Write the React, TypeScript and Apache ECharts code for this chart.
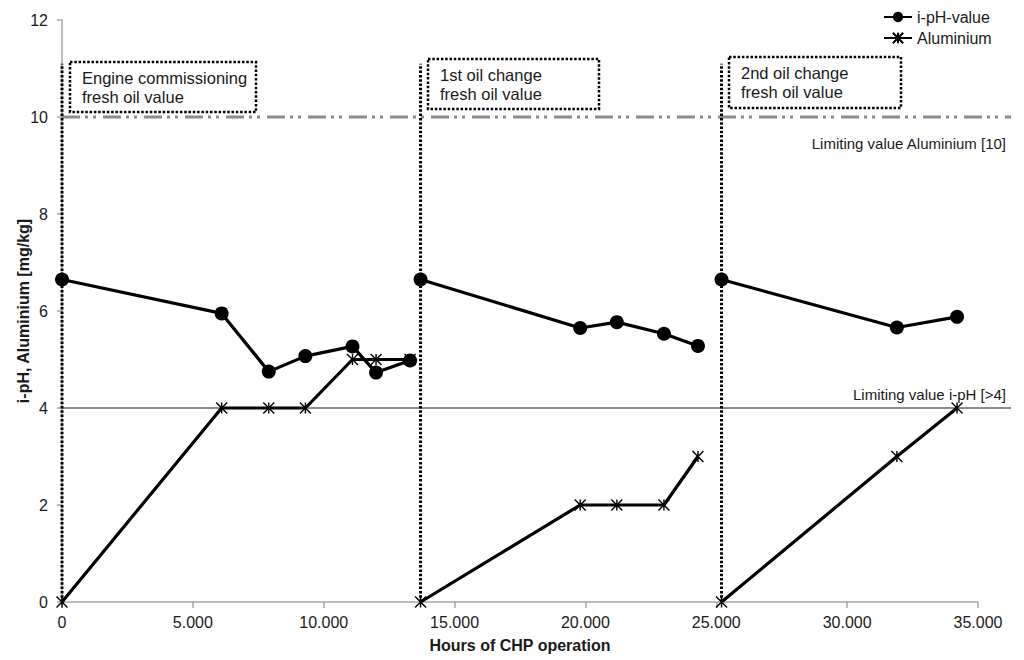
import React, { useEffect, useRef } from "react";
import * as echarts from "echarts";

// ---- data ----
const oilChangeHours = [0, 13700, 25200];
const annotationTop = 11.1;

const seg1Hours = [0, 6100, 7900, 9300, 11100, 12000, 13300];
const seg1PH = [6.65, 5.95, 4.75, 5.07, 5.27, 4.73, 4.98];
const seg1Al = [0, 4, 4, 4, 5, 5, 5];

const seg2Hours = [13700, 19800, 21200, 23000, 24300];
const seg2PH = [6.65, 5.65, 5.77, 5.53, 5.28];
const seg2Al = [0, 2, 2, 2, 3];

const seg3Hours = [25200, 31900, 34200];
const seg3PH = [6.65, 5.66, 5.88];
const seg3Al = [0, 3, 4];

const limitAluminium = 10;
const limitPH = 4;

const xTicks = { min: 0, max: 35000, interval: 5000 };
const yTicks = { min: 0, max: 12, interval: 2 };

const annotationLabels = [
  "Engine commissioning\nfresh oil value",
  "1st oil change\nfresh oil value",
  "2nd oil change\nfresh oil value",
];
const limitLabels = ["Limiting value Aluminium [10]", "Limiting value i-pH [>4]"];

const FONT = '"Liberation Sans", Arial, sans-serif';
const STAR = "path://M0,0L10,10M10,0L0,10M5,0L5,10";

const zip = (xs: number[], ys: number[]) => xs.map((x, i) => [x, ys[i]]);

export default function App() {
  const ref = useRef<HTMLDivElement>(null);
  useEffect(() => {
    if (!ref.current) return;
    const chart = echarts.init(ref.current, undefined, { renderer: "svg" });

    const segments = [
      [seg1Hours, seg1PH, seg1Al],
      [seg2Hours, seg2PH, seg2Al],
      [seg3Hours, seg3PH, seg3Al],
    ];

    const series: any[] = [];
    series.push({
      type: "line",
      xAxisIndex: 1,
      yAxisIndex: 1,
      data: [[0, limitAluminium], [1, limitAluminium]],
      symbol: "none",
      silent: true,
      z: 1,
      lineStyle: { color: "#8c8c8c", width: 2.8, type: [18, 5, 3, 5, 3, 7] },
    });
    series.push({
      type: "line",
      xAxisIndex: 1,
      yAxisIndex: 1,
      data: [[0, limitPH], [1, limitPH]],
      symbol: "none",
      silent: true,
      z: 1,
      lineStyle: { color: "#8c8c8c", width: 2.2 },
    });
    oilChangeHours.forEach((h) => {
      series.push({
        type: "line",
        data: [[h, 0], [h, annotationTop]],
        symbol: "none",
        silent: true,
        z: 2,
        lineStyle: { color: "#000", width: 3, type: [2.5, 1.8] },
      });
    });
    segments.forEach(([hours, ph, al]) => {
      series.push({
        type: "line",
        name: "Aluminium",
        data: zip(hours, al),
        symbol: STAR,
        symbolSize: 11,
        z: 3,
        lineStyle: { color: "#000", width: 3.2 },
        itemStyle: { color: "#000", borderColor: "#000", borderWidth: 1.4 },
      });
      series.push({
        type: "line",
        name: "i-pH-value",
        data: zip(hours, ph),
        symbol: "circle",
        symbolSize: 14,
        z: 4,
        lineStyle: { color: "#000", width: 3.2 },
        itemStyle: { color: "#000" },
      });
    });

    const boxes = [
      { x: 70, y: 62, w: 186, h: 50 },
      { x: 428, y: 59, w: 171, h: 50 },
      { x: 729, y: 57, w: 172, h: 51 },
    ];
    const graphic: any[] = [];
    boxes.forEach((b, i) => {
      graphic.push({
        type: "rect",
        shape: { x: b.x, y: b.y, width: b.w, height: b.h },
        style: { fill: "#fff", stroke: "#000", lineWidth: 2.5, lineDash: [2.5, 1.8] },
        z: 10,
      });
      graphic.push({
        type: "text",
        x: b.x + 12,
        y: b.y + 6,
        z: 11,
        style: {
          text: annotationLabels[i],
          font: `16.5px ${FONT}`,
          lineHeight: 19,
          fill: "#1a1a1a",
        },
      });
    });
    graphic.push({
      type: "text",
      x: 1006,
      y: 143,
      z: 11,
      style: { text: limitLabels[0], font: `15px ${FONT}`, fill: "#1a1a1a", align: "right", verticalAlign: "middle" },
    });
    graphic.push({
      type: "text",
      x: 1006,
      y: 394,
      z: 11,
      style: { text: limitLabels[1], font: `15px ${FONT}`, fill: "#1a1a1a", align: "right", verticalAlign: "middle" },
    });

    const axisColor = "#a6a6a6";
    chart.setOption({
      animation: false,
      backgroundColor: "#fff",
      textStyle: { fontFamily: FONT },
      grid: [
        { left: 62, right: 46, top: 20, bottom: 58, containLabel: false, outerBoundsMode: "none" },
        { left: 62, right: 13, top: 20, bottom: 58, containLabel: false, outerBoundsMode: "none" },
      ],
      legend: {
        data: ["i-pH-value", "Aluminium"],
        orient: "vertical",
        left: 878,
        top: 4,
        itemWidth: 28,
        itemHeight: 13,
        itemGap: 5,
        textStyle: { fontSize: 16, color: "#1a1a1a", fontFamily: FONT },
      },
      xAxis: [
        {
          type: "value",
          gridIndex: 0,
          ...xTicks,
          name: "Hours of CHP operation",
          nameLocation: "middle",
          nameGap: 35,
          nameMoveOverlap: false,
          nameTextStyle: { fontWeight: "bold", fontSize: 16, color: "#1a1a1a", fontFamily: FONT },
          axisLine: { show: true, lineStyle: { color: axisColor, width: 1.5 } },
          axisTick: { show: true, length: 6, lineStyle: { color: axisColor, width: 1.5 } },
          splitLine: { show: false },
          axisLabel: {
            fontSize: 16,
            color: "#1a1a1a",
            margin: 12,
            fontFamily: FONT,
            formatter: (v: number) => String(v).replace(/\B(?=(\d{3})+(?!\d))/g, "."),
          },
        },
        { type: "value", gridIndex: 1, min: 0, max: 1, show: false },
      ],
      yAxis: [
        {
          type: "value",
          gridIndex: 0,
          ...yTicks,
          name: "i-pH, Aluminium [mg/kg]",
          nameLocation: "middle",
          nameGap: 31,
          nameMoveOverlap: false,
          nameTextStyle: { fontWeight: "bold", fontSize: 16, color: "#1a1a1a", fontFamily: FONT },
          axisLine: { show: true, lineStyle: { color: axisColor, width: 1.5 } },
          axisTick: { show: true, length: 5, lineStyle: { color: axisColor, width: 1.5 } },
          splitLine: { show: false },
          axisLabel: { fontSize: 16, color: "#1a1a1a", margin: 14, fontFamily: FONT },
        },
        { type: "value", gridIndex: 1, min: 0, max: 12, show: false },
      ],
      series,
      graphic,
    });
    return () => chart.dispose();
  }, []);
  return (
    <div
      ref={ref}
      style={{ position: "fixed", left: 0, top: 0, width: 1024, height: 660, background: "#fff" }}
    />
  );
}
